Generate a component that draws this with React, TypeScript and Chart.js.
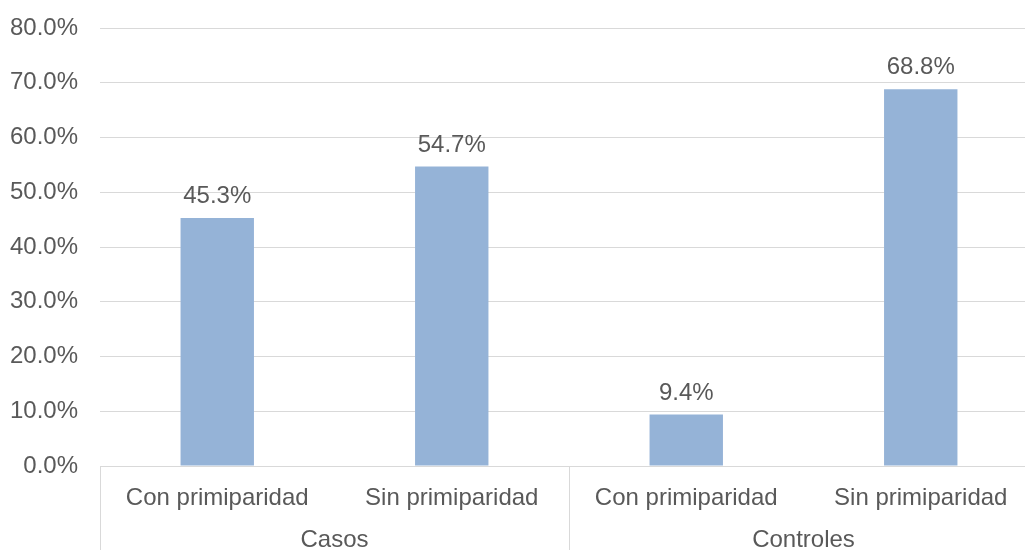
import React, { useEffect, useRef } from "react";
import { Chart, registerables } from "chart.js";

Chart.register(...registerables);

const categories = ["Con primiparidad", "Sin primiparidad", "Con primiparidad", "Sin primiparidad"];
const groups = ["Casos", "Controles"];
const groupSizes = [2, 2];
const values = [45.3, 54.7, 9.4, 68.8];
const yTicks = [0, 10, 20, 30, 40, 50, 60, 70, 80];

const TEXT = "#595959";
const GRID = "#D9D9D9";
const BAR = "#95B3D7";
const FONT = '"Liberation Sans", Arial, sans-serif';
const FS = 24;

const labelsPlugin = {
  id: "multiLabels",
  afterDraw(chart: any) {
    const ctx = chart.ctx;
    const area = chart.chartArea;
    const x = chart.scales.x;
    const meta = chart.getDatasetMeta(0);
    ctx.save();
    ctx.font = `${FS}px ${FONT}`;
    ctx.fillStyle = TEXT;
    ctx.textAlign = "center";
    ctx.textBaseline = "alphabetic";
    meta.data.forEach((bar: any, i: number) => {
      ctx.fillText(values[i].toFixed(1) + "%", bar.x, bar.y - 15);
    });
    categories.forEach((c, i) => {
      ctx.fillText(c, x.getPixelForValue(i), area.bottom + 39);
    });
    const step = (area.right - area.left) / categories.length;
    ctx.strokeStyle = GRID;
    ctx.lineWidth = 1;
    let start = 0;
    const bounds: number[] = [area.left];
    groups.forEach((g, gi) => {
      const end = start + groupSizes[gi];
      const x0 = area.left + start * step;
      const x1 = area.left + end * step;
      bounds.push(x1);
      ctx.fillText(g, (x0 + x1) / 2, area.bottom + 81);
      start = end;
    });
    bounds.forEach((bx) => {
      const px = Math.round(bx) + 0.5;
      ctx.beginPath();
      ctx.moveTo(px, area.bottom);
      ctx.lineTo(px, chart.height);
      ctx.stroke();
    });
    ctx.restore();
  },
};

export default function App() {
  const ref = useRef<HTMLCanvasElement>(null);
  useEffect(() => {
    if (!ref.current) return;
    const chart = new Chart(ref.current, {
      type: "bar",
      data: {
        labels: categories,
        datasets: [
          {
            data: values,
            backgroundColor: BAR,
            borderWidth: 0,
            categoryPercentage: 1,
            barPercentage: 0.313,
          },
        ],
      },
      options: {
        responsive: false,
        animation: false,
        devicePixelRatio: 1,
        layout: { padding: { top: 28, right: 7, bottom: 84, left: 0 } },
        plugins: { legend: { display: false }, tooltip: { enabled: false } },
        scales: {
          x: { display: false },
          y: {
            min: 0,
            max: 80,
            afterFit(scale: any) {
              scale.width = 100;
              scale.paddingTop = 0;
              scale.paddingBottom = 0;
            },
            afterBuildTicks(scale: any) {
              scale.ticks = yTicks.map((v) => ({ value: v }));
            },
            ticks: {
              padding: 22,
              color: TEXT,
              font: { family: FONT, size: FS },
              callback: (v: any) => Number(v).toFixed(1) + "%",
            },
            grid: { color: GRID, drawTicks: false, lineWidth: 1 },
            border: { display: false },
          },
        },
      },
      plugins: [labelsPlugin],
    });
    return () => chart.destroy();
  }, []);
  return (
    <div style={{ position: "absolute", left: 0, top: 0, width: 1025, height: 550, overflow: "hidden", background: "#fff" }}>
      <canvas ref={ref} width={1045} height={550} style={{ width: 1045, height: 550, display: "block" }} />
    </div>
  );
}
